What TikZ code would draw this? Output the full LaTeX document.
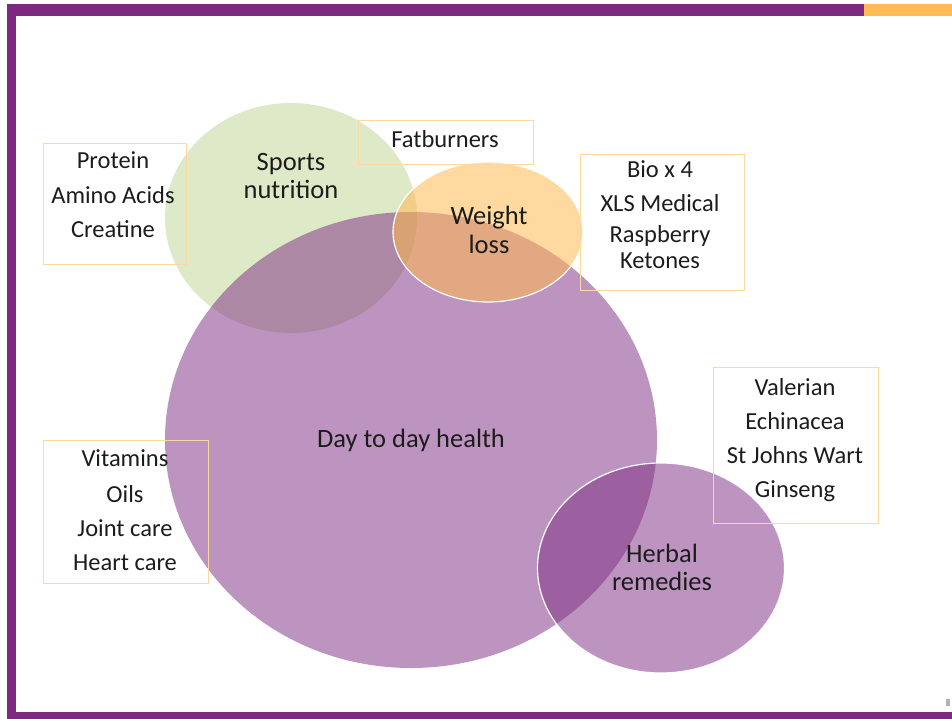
\documentclass[tikz,border=0pt]{standalone}
\usepackage{fontspec}
\setmainfont{Carlito}
\usetikzlibrary{shapes.geometric}
\definecolor{framepurple}{HTML}{7B2A80}
\definecolor{frameorange}{HTML}{FFBA55}
\definecolor{vpurple}{HTML}{7B2A80}
\definecolor{vgreen}{HTML}{9BBB59}
\definecolor{vorange}{HTML}{FFB950}
\definecolor{boxline}{HTML}{FDD9A0}
\definecolor{txt}{HTML}{1C1C1C}
\begin{document}
\begin{tikzpicture}[x=1pt,y=-1pt,
  blob/.style={ellipse, inner sep=0pt},
  listbox/.style={draw=boxline, line width=1pt},
  lbl/.style={anchor=base, inner sep=0pt, text=txt, font=\fontsize{24.5}{29}\selectfont},
  biglbl/.style={lbl, font=\fontsize{26.5}{31}\selectfont}]
\useasboundingbox (0,0) rectangle (952,719);
% frame
\fill[framepurple] (7,4) rectangle (864,16);
\fill[frameorange] (864,4) rectangle (952,16);
\fill[framepurple] (7,4) rectangle (16,719);
\fill[framepurple] (7,712) rectangle (952,719);
\fill[gray!60] (946,699) rectangle (950,706);
% ellipses
\node[blob, fill=vgreen, fill opacity=0.33, minimum width=252pt, minimum height=230pt] (sports) at (291,218) {};
\node[blob, fill=vpurple, fill opacity=0.5, minimum width=492pt, minimum height=456pt] (daily) at (411,440) {};
\node[blob, fill=vorange, fill opacity=0.55, draw=white, line width=1.2pt, minimum width=190pt, minimum height=140pt] (weight) at (488,232) {};
\node[blob, fill=vpurple, fill opacity=0.5, draw=white, line width=1.2pt, minimum width=247pt, minimum height=210pt] (herbal) at (661,568) {};
% boxes
\draw[listbox] (43,144) rectangle (186,264);
\draw[listbox] (358,121) rectangle (533,165);
\draw[listbox] (580,155) rectangle (744,290);
\draw[listbox] (713,367) rectangle (878,523);
\draw[listbox] (43,440) rectangle (208,583);
% ellipse labels
\node[biglbl] (sp1) at (291,171) {Sports};
\node[biglbl] (sp2) at (291,199) {nutrition};
\node[biglbl] (wl1) at (489,225) {Weight};
\node[biglbl] (wl2) at (489,254) {loss};
\node[biglbl] (dd) at (411,447) {Day to day health};
\node[biglbl] (hr1) at (662,562) {Herbal};
\node[biglbl] (hr2) at (662,590) {remedies};
% list texts
\node[lbl] (fb) at (445,148) {Fatburners};
\node[lbl] (p1) at (113,169) {Protein};
\node[lbl] (p2) at (113,204) {Amino Acids};
\node[lbl] (p3) at (113,238) {Creatine};
\node[lbl] (b1) at (660,178) {Bio x 4};
\node[lbl] (b2) at (660,212) {XLS Medical};
\node[lbl] (b3) at (660,243) {Raspberry};
\node[lbl] (b4) at (660,268) {Ketones};
\node[lbl] (v1) at (795,395) {Valerian};
\node[lbl] (v2) at (795,429) {Echinacea};
\node[lbl] (v3) at (795,463) {St Johns Wart};
\node[lbl] (v4) at (795,497) {Ginseng};
\node[lbl] (t1) at (125,466) {Vitamins};
\node[lbl] (t2) at (125,502) {Oils};
\node[lbl] (t3) at (125,536) {Joint care};
\node[lbl] (t4) at (125,570) {Heart care};
\end{tikzpicture}
\end{document}
